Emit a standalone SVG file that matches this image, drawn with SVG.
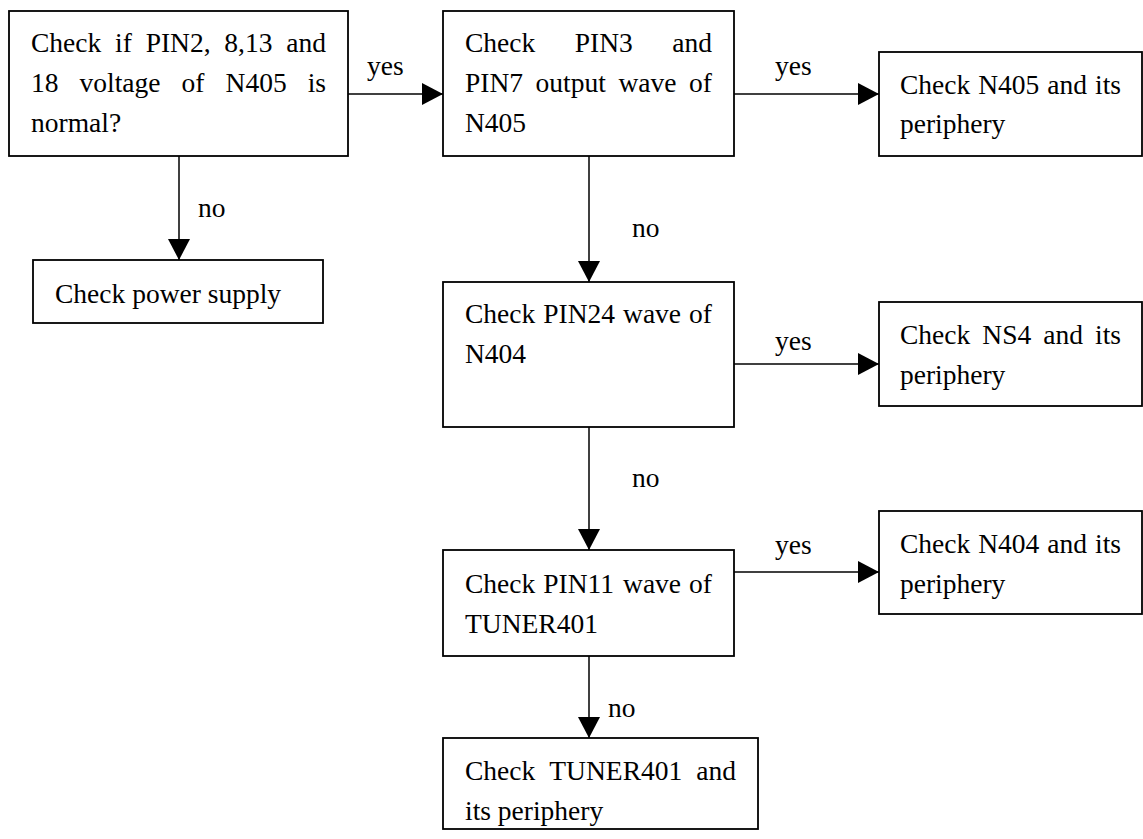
<svg xmlns="http://www.w3.org/2000/svg" width="1143" height="839" viewBox="0 0 1143 839">
  <defs>
    <style>
      .box { fill: #ffffff; stroke: #000000; stroke-width: 1.8; }
      .link { fill: none; stroke: #000000; stroke-width: 1.5; }
      text { font-family: "Liberation Serif", "Times New Roman", serif; font-size: 27.5px; fill: #000000; }
    </style>
    <marker id="arrow" markerUnits="userSpaceOnUse" markerWidth="21" markerHeight="22" refX="21" refY="11" orient="auto">
      <path d="M0,0 L21,11 L0,22 z" fill="#000000"/>
    </marker>
  </defs>
  <rect width="1143" height="839" fill="#ffffff"/>

  <!-- connectors and their yes/no labels -->
  <g id="connectors">
    <line class="link" x1="348" y1="94" x2="443" y2="94" marker-end="url(#arrow)"/>
    <line class="link" x1="734" y1="94" x2="879" y2="94" marker-end="url(#arrow)"/>
    <line class="link" x1="179" y1="156" x2="179" y2="260" marker-end="url(#arrow)"/>
    <line class="link" x1="589" y1="156" x2="589" y2="282" marker-end="url(#arrow)"/>
    <line class="link" x1="734" y1="364" x2="879" y2="364" marker-end="url(#arrow)"/>
    <line class="link" x1="589" y1="427" x2="589" y2="550" marker-end="url(#arrow)"/>
    <line class="link" x1="734" y1="572" x2="879" y2="572" marker-end="url(#arrow)"/>
    <line class="link" x1="589" y1="656" x2="589" y2="738" marker-end="url(#arrow)"/>
    <text x="367" y="75">yes</text>
    <text x="775" y="75">yes</text>
    <text x="198" y="217">no</text>
    <text x="632" y="237">no</text>
    <text x="775" y="350">yes</text>
    <text x="632" y="487">no</text>
    <text x="775" y="554">yes</text>
    <text x="608" y="717">no</text>
  </g>

  <!-- justified lines: each word placed at its own x -->
  <g id="check-voltage">
    <rect class="box" x="9" y="11" width="339" height="145"/>
    <text y="52"><tspan x="31">Check</tspan><tspan x="115.05">if</tspan><tspan x="145.64">PIN2,</tspan><tspan x="224.36">8,13</tspan><tspan x="286.28">and</tspan></text>
    <text y="92"><tspan x="31">18</tspan><tspan x="79.55">voltage</tspan><tspan x="181.56">of</tspan><tspan x="225.52">N405</tspan><tspan x="307.68">is</tspan></text>
    <text x="31" y="132">normal?</text>
  </g>

  <g id="check-pin3-pin7">
    <rect class="box" x="443" y="11" width="291" height="145"/>
    <text y="52"><tspan x="465">Check</tspan><tspan x="574.75">PIN3</tspan><tspan x="672.29">and</tspan></text>
    <text y="92"><tspan x="465">PIN7</tspan><tspan x="535.62">output</tspan><tspan x="618.48">wave</tspan><tspan x="689.08">of</tspan></text>
    <text x="465" y="132">N405</text>
  </g>

  <g id="check-n405">
    <rect class="box" x="879" y="52" width="263" height="104"/>
    <text y="94"><tspan x="900">Check</tspan><tspan x="978.24">N405</tspan><tspan x="1047.33">and</tspan><tspan x="1095.02">its</tspan></text>
    <text x="900" y="133">periphery</text>
  </g>

  <g id="check-power">
    <rect class="box" x="33" y="260" width="290" height="63"/>
    <text x="55" y="303">Check power supply</text>
  </g>

  <g id="check-pin24">
    <rect class="box" x="443" y="282" width="291" height="145"/>
    <text y="323"><tspan x="465">Check</tspan><tspan x="543.26">PIN24</tspan><tspan x="623.06">wave</tspan><tspan x="689.09">of</tspan></text>
    <text x="465" y="363">N404</text>
  </g>

  <g id="check-ns4">
    <rect class="box" x="879" y="302" width="263" height="104"/>
    <text y="344"><tspan x="900">Check</tspan><tspan x="982.31">NS4</tspan><tspan x="1043.26">and</tspan><tspan x="1095.02">its</tspan></text>
    <text x="900" y="384">periphery</text>
  </g>

  <g id="check-pin11">
    <rect class="box" x="443" y="550" width="291" height="106"/>
    <text y="593"><tspan x="465">Check</tspan><tspan x="543.26">PIN11</tspan><tspan x="623.06">wave</tspan><tspan x="689.09">of</tspan></text>
    <text x="465" y="633">TUNER401</text>
  </g>

  <g id="check-n404">
    <rect class="box" x="879" y="511" width="263" height="103"/>
    <text y="553"><tspan x="900">Check</tspan><tspan x="978.24">N404</tspan><tspan x="1047.33">and</tspan><tspan x="1095.02">its</tspan></text>
    <text x="900" y="593">periphery</text>
  </g>

  <g id="check-tuner401">
    <rect class="box" x="443" y="738" width="315" height="91"/>
    <text y="780"><tspan x="465">Check</tspan><tspan x="549.32">TUNER401</tspan><tspan x="696.29">and</tspan></text>
    <text x="465" y="820">its periphery</text>
  </g>
</svg>
